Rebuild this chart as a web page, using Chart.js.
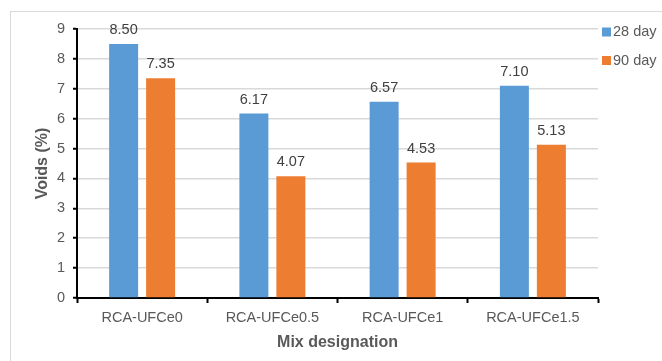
<!DOCTYPE html>
<html>
<head>
<meta charset="utf-8">
<script src="https://cdn.jsdelivr.net/npm/chart.js@4/dist/chart.umd.min.js"></script>
<style>
  html, body { margin: 0; padding: 0; background: #fff; overflow: hidden; }
  #wrap { position: relative; width: 662px; height: 361px; }
  #frame { position: absolute; left: 10px; top: 11px; width: 720px; height: 420px; border: 1px solid #d9d9d9; box-sizing: border-box; }
  canvas { position: absolute; left: 0; top: 0; }
</style>
</head>
<body>
<div id="wrap">
  <div id="frame"></div>
  <canvas id="chart" width="662" height="361"></canvas>
</div>
<script>
const categories = ["RCA-UFCe0", "RCA-UFCe0.5", "RCA-UFCe1", "RCA-UFCe1.5"];
const seriesNames = ["28 day", "90 day"];
const day28 = [8.50, 6.17, 6.57, 7.10];
const day90 = [7.35, 4.07, 4.53, 5.13];
const colors = ["#5b9bd5", "#ed7d31"];

const FONT = "'Liberation Sans', Arial, sans-serif";

// value labels above each bar
const valueLabels = {
    id: "valueLabels",
    afterDatasetsDraw(chart) {
        let ctx = chart.ctx;
        ctx.save();
        ctx.font = "14.5px " + FONT;
        ctx.fillStyle = "#404040";
        ctx.textAlign = "center";
        ctx.textBaseline = "alphabetic";
        chart.data.datasets.forEach((ds, i) => {
            chart.getDatasetMeta(i).data.forEach((bar, j) => {
                ctx.fillText(ds.data[j].toFixed(2), bar.x, bar.y - 10);
            });
        });
        ctx.restore();
    }
};

// legend on the right, Excel style
const sideLegend = {
    id: "sideLegend",
    afterDraw(chart) {
        let ctx = chart.ctx;
        ctx.save();
        ctx.font = "14.5px " + FONT;
        ctx.textBaseline = "middle";
        ctx.textAlign = "left";
        chart.data.datasets.forEach((ds, i) => {
            let y = 32 + i * 28.5;
            ctx.fillStyle = ds.backgroundColor;
            ctx.fillRect(602, y - 4.5, 9, 9);
            ctx.fillStyle = "#595959";
            ctx.fillText(ds.label, 613, y);
        });
        ctx.restore();
    }
};

new Chart(document.getElementById("chart").getContext("2d"), {
    type: "bar",
    data: {
        labels: categories,
        datasets: [
            { label: seriesNames[0], data: day28, backgroundColor: colors[0] },
            { label: seriesNames[1], data: day90, backgroundColor: colors[1] }
        ]
    },
    options: {
        responsive: false,
        animation: false,
        categoryPercentage: 0.568,
        barPercentage: 0.784,
        layout: { padding: { left: 0, right: 64, top: 29, bottom: 0 } },
        plugins: {
            legend: { display: false },
            tooltip: { enabled: false }
        },
        scales: {
            x: {
                grid: {
                    offset: true,
                    drawOnChartArea: false,
                    drawTicks: true,
                    tickLength: 5,
                    tickColor: "#000",
                    tickWidth: 2
                },
                border: { color: "#000", width: 2 },
                ticks: { color: "#595959", font: { family: FONT, size: 14.5 }, padding: 6 },
                title: {
                    display: true,
                    text: "Mix designation",
                    color: "#595959",
                    font: { family: FONT, size: 16, weight: "bold" },
                    padding: { top: 0, bottom: 9 }
                },
                afterFit(scale) { scale.height = 63; }
            },
            y: {
                min: 0,
                max: 9,
                ticks: { stepSize: 1, color: "#595959", font: { family: FONT, size: 14.5 }, padding: 8 },
                grid: { color: "#d9d9d9", lineWidth: 1.5, tickLength: 4, tickColor: "#000", tickWidth: 2 },
                border: { color: "#000", width: 2 },
                title: {
                    display: true,
                    text: "Voids (%)",
                    color: "#595959",
                    font: { family: FONT, size: 16, weight: "bold" },
                    padding: { top: 33, bottom: 0 }
                },
                afterFit(scale) { scale.width = 77; }
            }
        }
    },
    plugins: [valueLabels, sideLegend]
});
</script>
</body>
</html>
